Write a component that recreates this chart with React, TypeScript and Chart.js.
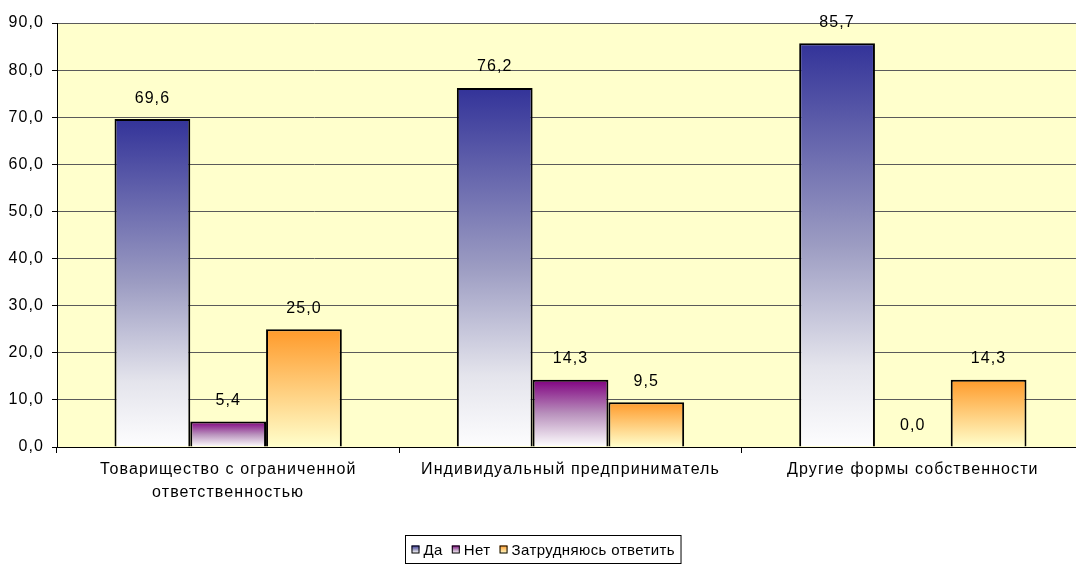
import React, { useEffect, useRef } from "react";
import { Chart, registerables } from "chart.js";

Chart.register(...registerables);

const categories: (string | string[])[] = [
  ["Товарищество с ограниченной", "ответственностью"],
  "Индивидуальный предприниматель",
  "Другие формы собственности",
];
const seriesNames = ["Да", "Нет", "Затрудняюсь ответить"];
const yesValues = [69.6, 76.2, 85.7];
const noValues = [5.4, 14.3, 0.0];
const unsureValues = [25.0, 9.5, 14.3];
const yTicks = { min: 0, max: 90, step: 10 };

// colour stops (offset, colour) of each series' vertical gradient, top to bottom
const gradientStops: [number, string][][] = [
  [[0, "#333399"], [0.5, "#9c9cc2"], [0.8, "#e4e4ec"], [1, "#fdfdfe"]],
  [[0, "#800080"], [0.5, "#b890bc"], [1, "#ffffff"]],
  [[0, "#ff9a2a"], [1, "#ffffcc"]],
];

const FONT = '"Liberation Sans", Arial, sans-serif';
const TEXT_SIZE = 16;
const fmt = (v: number) => v.toFixed(1).replace(".", ",");

const spacing = {
  id: "spacing",
  beforeUpdate(chart: any) {
    chart.ctx.letterSpacing = "1.1px";
  },
  beforeDraw(chart: any) {
    chart.ctx.letterSpacing = "1.1px";
  },
};

const plotBackground = {
  id: "plotBackground",
  beforeDraw(chart: any) {
    const { ctx, chartArea } = chart;
    if (!chartArea) return;
    ctx.save();
    ctx.fillStyle = "#ffffcc";
    ctx.fillRect(chartArea.left, chartArea.top, chartArea.right - chartArea.left, chartArea.bottom - chartArea.top);
    ctx.restore();
  },
};

const valueLabels = {
  id: "valueLabels",
  afterDatasetsDraw(chart: any) {
    const { ctx } = chart;
    ctx.save();
    ctx.font = `${TEXT_SIZE}px ${FONT}`;
    ctx.fillStyle = "#000";
    ctx.textAlign = "center";
    ctx.textBaseline = "middle";
    chart.data.datasets.forEach((ds: any, i: number) => {
      const meta = chart.getDatasetMeta(i);
      meta.data.forEach((el: any, j: number) => {
        ctx.fillText(fmt(ds.data[j]), el.x, el.y - 21);
      });
    });
    ctx.restore();
  },
};

function fillGradient(ctx: CanvasRenderingContext2D, seriesIndex: number, top: number, bottom: number) {
  const g = ctx.createLinearGradient(0, top, 0, bottom);
  gradientStops[seriesIndex].forEach(([o, c]) => g.addColorStop(o, c));
  return g;
}

const boxLegend = {
  id: "boxLegend",
  afterDraw(chart: any) {
    const { ctx } = chart;
    ctx.save();
    ctx.letterSpacing = "0.4px";
    ctx.font = `15px ${FONT}`;
    ctx.textBaseline = "middle";
    ctx.textAlign = "left";
    const sq = 8;
    const gapAfterSq = 4;
    const gapItems = 9;
    const pad = 6;
    const widths = seriesNames.map((n) => ctx.measureText(n).width);
    const total =
      pad * 2 + widths.reduce((a, w) => a + sq + gapAfterSq + w, 0) + gapItems * (seriesNames.length - 1);
    const cx = 543;
    const left = Math.round(cx - total / 2) + 0.5;
    const top = 535.5;
    const h = 28;
    ctx.fillStyle = "#fff";
    ctx.fillRect(left, top, total, h);
    ctx.strokeStyle = "#000";
    ctx.lineWidth = 1;
    ctx.strokeRect(left, top, total, h);
    let x = left + pad;
    const midY = top + h / 2;
    seriesNames.forEach((name, i) => {
      ctx.fillStyle = fillGradient(ctx, i, midY - sq / 2, midY + sq / 2);
      ctx.fillRect(x, midY - sq / 2, sq, sq);
      ctx.strokeStyle = "#000";
      ctx.strokeRect(x + 0.5, midY - sq / 2 + 0.5, sq - 1, sq - 1);
      x += sq + gapAfterSq;
      ctx.fillStyle = "#000";
      ctx.fillText(name, x, midY + 1);
      x += widths[i] + gapItems;
    });
    ctx.restore();
  },
};

function barGradient(seriesIndex: number) {
  return (context: any) => {
    const chart = context.chart;
    const y = chart.scales?.y;
    const solid = gradientStops[seriesIndex][0][1];
    if (!chart.chartArea || !y || context.dataIndex === undefined) return solid;
    const v = context.dataset.data[context.dataIndex];
    const top = y.getPixelForValue(v);
    const bottom = y.getPixelForValue(0);
    if (bottom - top < 1) return solid;
    return fillGradient(chart.ctx, seriesIndex, top, bottom);
  };
}

export default function App() {
  const canvasRef = useRef<HTMLCanvasElement | null>(null);

  useEffect(() => {
    if (!canvasRef.current) return;
    const seriesValues = [yesValues, noValues, unsureValues];
    const chart = new Chart(canvasRef.current, {
      type: "bar",
      data: {
        labels: categories,
        datasets: seriesValues.map((vals, i) => ({
          label: seriesNames[i],
          data: vals,
          backgroundColor: barGradient(i),
          borderColor: "#000",
          borderWidth: 2,
          categoryPercentage: 0.664,
          barPercentage: 1,
        })),
      },
      options: {
        responsive: false,
        animation: false,
        devicePixelRatio: 1,
        layout: { padding: { top: 23, right: 6, left: 0, bottom: 0 } },
        plugins: {
          legend: { display: false },
          tooltip: { enabled: false },
          title: { display: false },
        },
        scales: {
          x: {
            afterFit(scale: any) {
              scale.height = 117;
            },
            grid: {
              drawOnChartArea: false,
              drawTicks: true,
              tickLength: 6,
              color: "#000",
              tickColor: "#000",
            },
            border: { color: "#000", width: 1 },
            ticks: {
              color: "#000",
              font: { family: FONT, size: TEXT_SIZE, lineHeight: 1.45 },
              padding: 5,
              maxRotation: 0,
              autoSkip: false,
            },
          },
          y: {
            min: yTicks.min,
            max: yTicks.max,
            afterFit(scale: any) {
              scale.width = 57;
            },
            grid: {
              color: "#5a5a5a",
              tickColor: "#000",
              tickLength: 5,
              lineWidth: 1,
            },
            border: { color: "#000", width: 1 },
            ticks: {
              stepSize: yTicks.step,
              color: "#000",
              font: { family: FONT, size: TEXT_SIZE },
              padding: 8,
              callback: (v: any) => fmt(Number(v)),
            },
          },
        },
      },
      plugins: [spacing, plotBackground, valueLabels, boxLegend],
    });
    return () => chart.destroy();
  }, []);

  return (
    <div style={{ position: "absolute", left: 0, top: 0, width: 1076, height: 564, overflow: "hidden", background: "#fff" }}>
      <canvas ref={canvasRef} width={1090} height={564} style={{ display: "block" }} />
    </div>
  );
}
